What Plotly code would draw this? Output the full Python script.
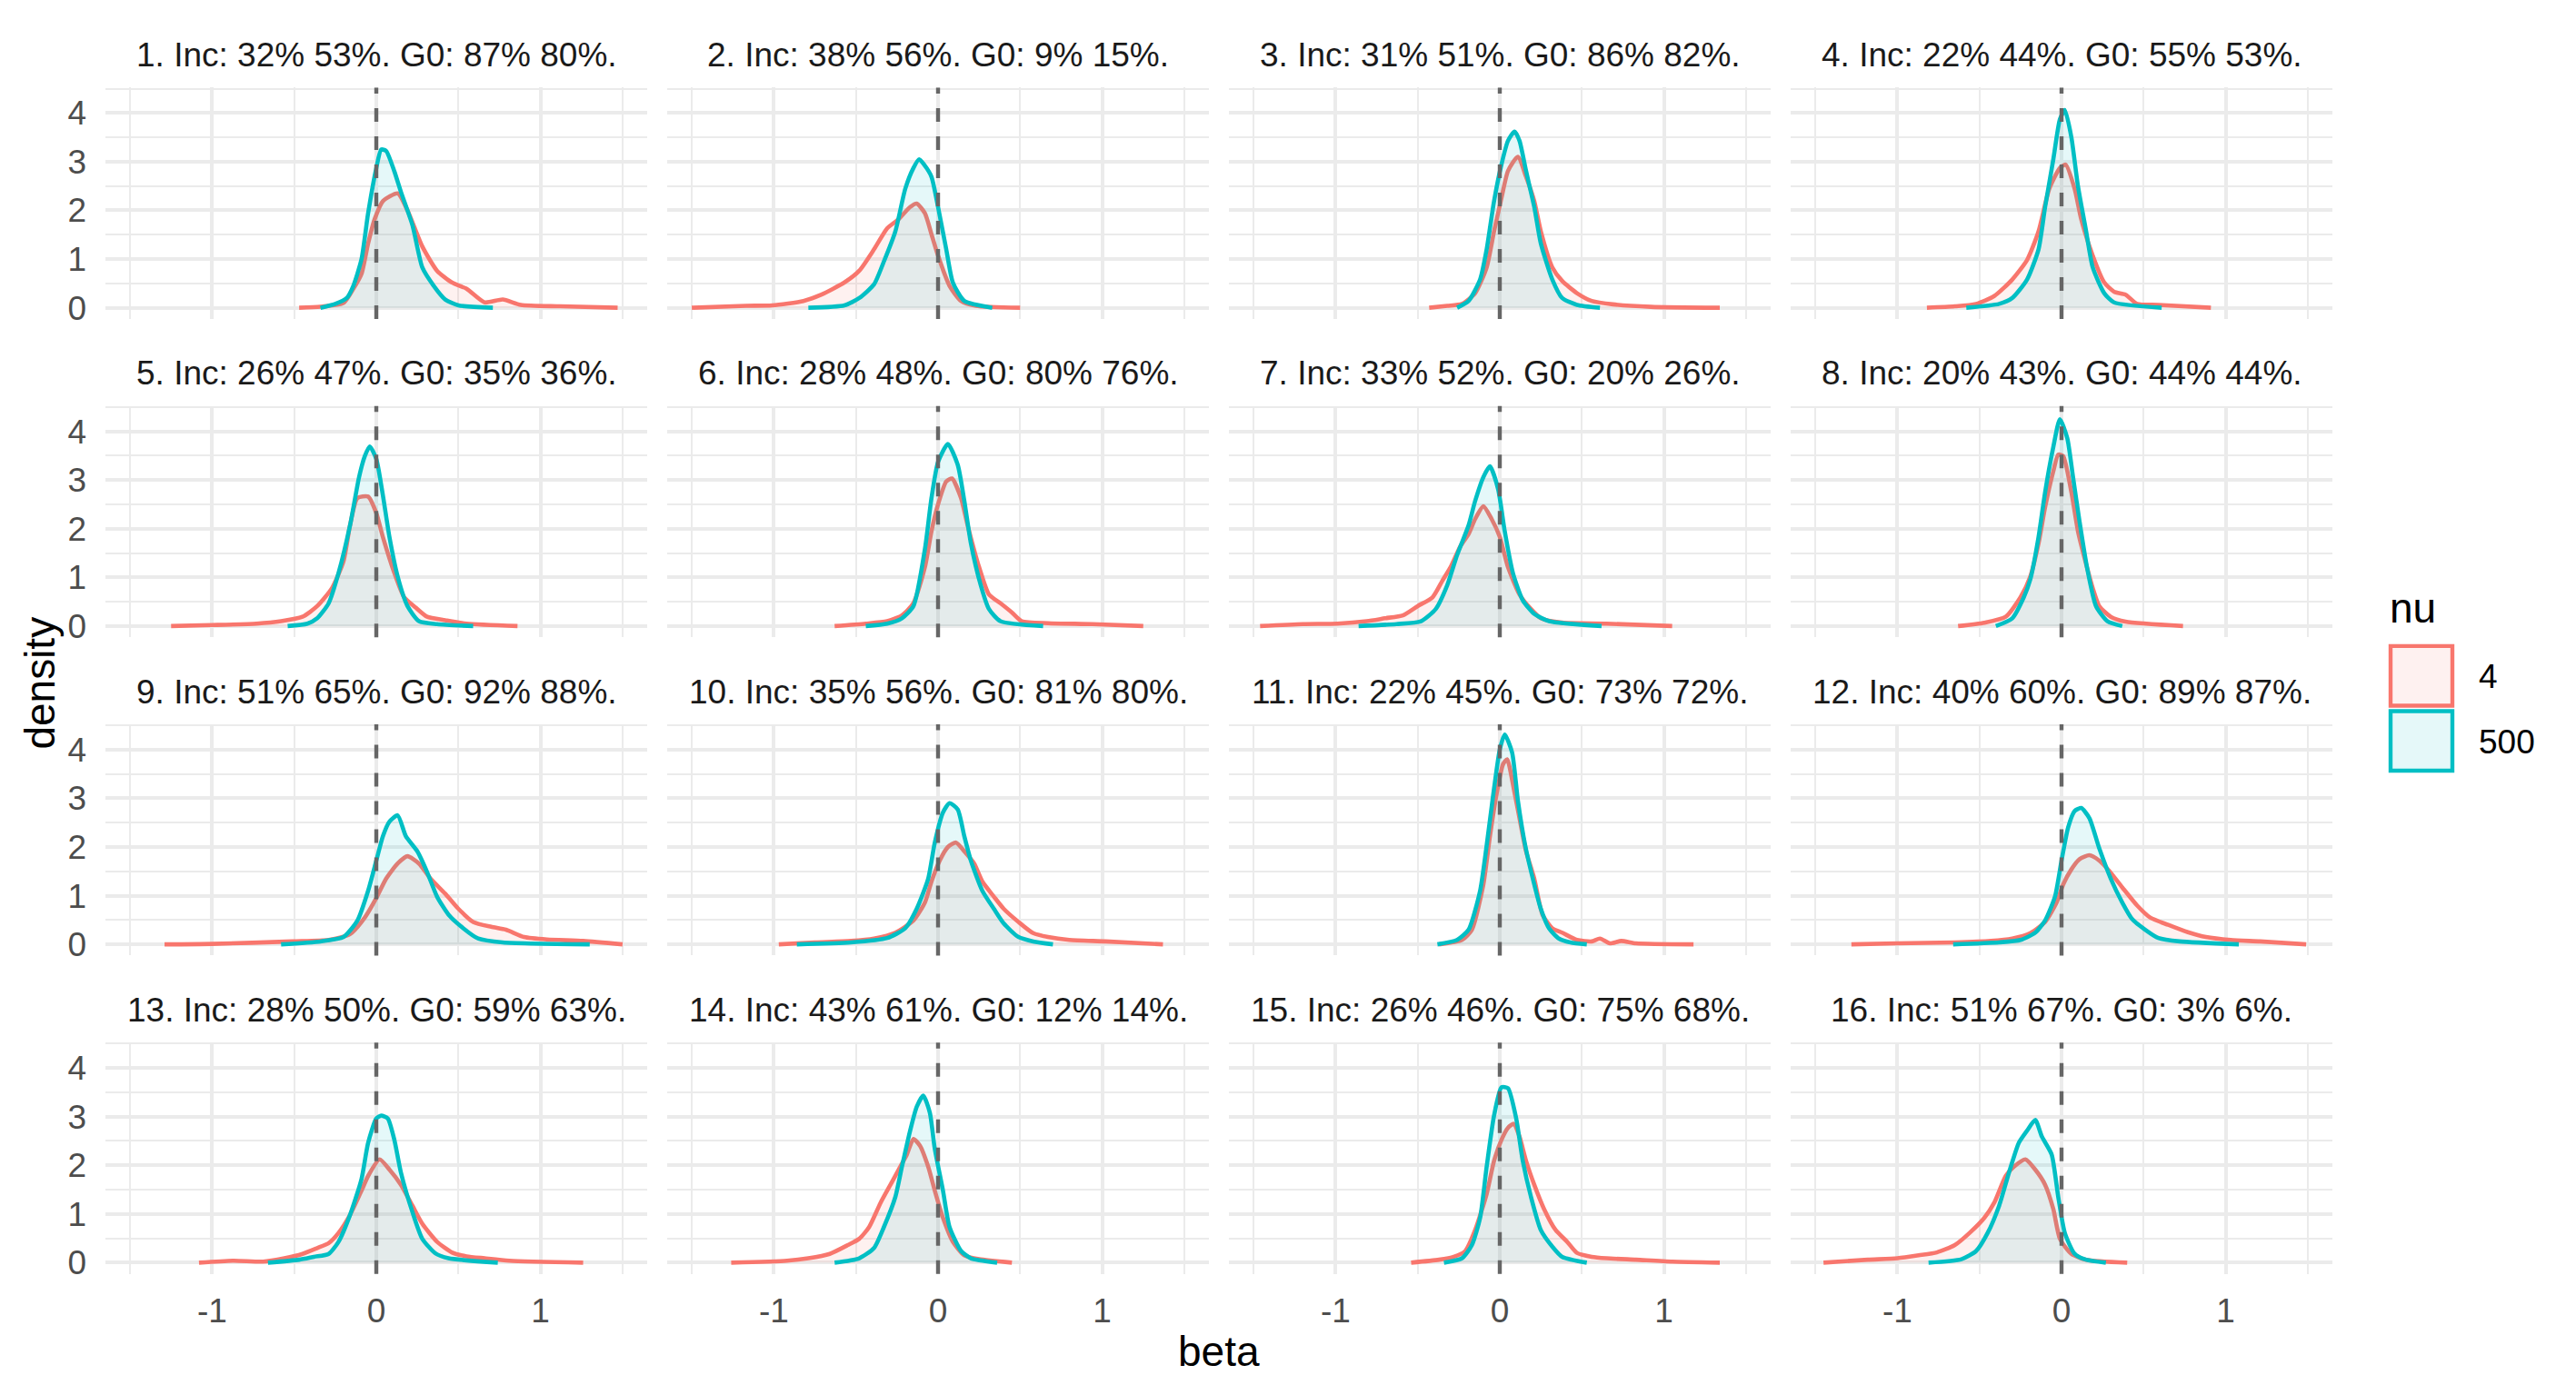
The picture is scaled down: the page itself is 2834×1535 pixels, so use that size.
import plotly.graph_objects as go

# --- panel labels: % inclusion and % G0, for nu = 4 and nu = 500 ---
inc_nu4 = [32, 38, 31, 22, 26, 28, 33, 20, 51, 35, 22, 40, 28, 43, 26, 51]
inc_nu500 = [53, 56, 51, 44, 47, 48, 52, 43, 65, 56, 45, 60, 50, 61, 46, 67]
g0_nu4 = [87, 9, 86, 55, 35, 80, 20, 44, 92, 81, 73, 89, 59, 12, 75, 3]
g0_nu500 = [80, 15, 82, 53, 36, 76, 26, 44, 88, 80, 72, 87, 63, 14, 68, 6]

nu_levels = ["4", "500"]
x_tickvals = [-1, 0, 1]
x_ticktext = ["-1", "0", "1"]
y_tickvals = [0, 1, 2, 3, 4]
x_minor = [-1.5, -0.5, 0.5, 1.5]
y_minor = [0.5, 1.5, 2.5, 3.5, 4.5]

# --- density curves (beta, density) ---
beta_01_nu4 = [-0.47, -0.34, -0.2, -0.14, -0.09, -0.05, -0.01, 0.04, 0.13, 0.19, 0.28, 0.37, 0.46, 0.55, 0.66, 0.77, 0.88, 1.12, 1.47]
dens_01_nu4 = [0, 0.02, 0.1, 0.39, 0.7, 1.32, 1.82, 2.19, 2.35, 2.0, 1.26, 0.76, 0.52, 0.39, 0.11, 0.17, 0.06, 0.03, 0]
beta_01_nu500 = [-0.34, -0.25, -0.18, -0.14, -0.09, -0.05, 0, 0.03, 0.06, 0.11, 0.15, 0.22, 0.28, 0.35, 0.42, 0.5, 0.71]
dens_01_nu500 = [0, 0.08, 0.2, 0.45, 1.0, 1.94, 2.87, 3.25, 3.22, 2.8, 2.38, 1.7, 0.83, 0.45, 0.17, 0.05, 0]

beta_02_nu4 = [-1.5, -1.17, -1.01, -0.82, -0.71, -0.57, -0.48, -0.39, -0.31, -0.24, -0.17, -0.13, -0.08, -0.04, 0, 0.07, 0.14, 0.23, 0.5]
dens_02_nu4 = [0, 0.04, 0.05, 0.14, 0.27, 0.52, 0.76, 1.2, 1.63, 1.82, 2.07, 2.14, 1.94, 1.51, 1.07, 0.45, 0.14, 0.04, 0]
beta_02_nu500 = [-0.79, -0.57, -0.48, -0.39, -0.33, -0.26, -0.2, -0.15, -0.115, -0.085, -0.04, 0, 0.05, 0.09, 0.16, 0.33]
dens_02_nu500 = [0, 0.05, 0.2, 0.48, 0.95, 1.57, 2.44, 2.87, 3.05, 2.94, 2.69, 2.07, 1.2, 0.52, 0.14, 0]

beta_03_nu4 = [-0.43, -0.32, -0.23, -0.15, -0.08, -0.035, 0.01, 0.05, 0.11, 0.16, 0.21, 0.25, 0.32, 0.38, 0.47, 0.56, 0.69, 0.92, 1.34]
dens_03_nu4 = [0, 0.04, 0.08, 0.3, 0.83, 1.57, 2.25, 2.81, 3.1, 2.69, 2.19, 1.57, 0.83, 0.55, 0.3, 0.14, 0.07, 0.02, 0]
beta_03_nu500 = [-0.26, -0.19, -0.12, -0.08, -0.035, 0.01, 0.05, 0.09, 0.12, 0.16, 0.21, 0.25, 0.32, 0.38, 0.47, 0.61]
dens_03_nu500 = [0, 0.14, 0.58, 1.2, 2.19, 2.94, 3.43, 3.62, 3.43, 2.81, 2.07, 1.32, 0.58, 0.2, 0.06, 0]

beta_04_nu4 = [-0.82, -0.65, -0.52, -0.41, -0.3, -0.21, -0.14, -0.075, -0.01, 0.025, 0.08, 0.12, 0.19, 0.26, 0.32, 0.39, 0.46, 0.59, 0.91]
dens_04_nu4 = [0, 0.03, 0.08, 0.24, 0.58, 0.98, 1.57, 2.44, 2.87, 2.94, 2.44, 1.82, 1.07, 0.52, 0.33, 0.27, 0.08, 0.06, 0]
beta_04_nu500 = [-0.58, -0.38, -0.3, -0.21, -0.14, -0.1, -0.05, -0.01, 0.02, 0.06, 0.1, 0.15, 0.19, 0.26, 0.32, 0.61]
dens_04_nu500 = [0, 0.08, 0.2, 0.58, 1.2, 2.07, 3.05, 3.87, 4.06, 3.5, 2.5, 1.57, 0.83, 0.3, 0.11, 0]

beta_05_nu4 = [-1.25, -1.0, -0.73, -0.58, -0.45, -0.36, -0.27, -0.2, -0.16, -0.115, -0.05, 0, 0.04, 0.11, 0.17, 0.24, 0.31, 0.42, 0.55, 0.86]
dens_05_nu4 = [0, 0.02, 0.05, 0.1, 0.19, 0.41, 0.78, 1.33, 2.07, 2.63, 2.66, 2.32, 1.83, 1.09, 0.59, 0.38, 0.19, 0.12, 0.05, 0]
beta_05_nu500 = [-0.54, -0.42, -0.36, -0.29, -0.23, -0.16, -0.105, -0.07, -0.04, 0, 0.04, 0.08, 0.13, 0.19, 0.26, 0.37, 0.59]
dens_05_nu500 = [0, 0.05, 0.16, 0.47, 1.09, 2.07, 3.06, 3.49, 3.69, 3.43, 2.69, 1.83, 1.02, 0.41, 0.1, 0.04, 0]

beta_06_nu4 = [-0.63, -0.44, -0.31, -0.22, -0.15, -0.08, -0.04, 0, 0.05, 0.085, 0.14, 0.18, 0.25, 0.31, 0.38, 0.45, 0.51, 0.67, 0.94, 1.25]
dens_06_nu4 = [0, 0.05, 0.1, 0.22, 0.47, 1.21, 1.95, 2.5, 2.97, 3.03, 2.63, 2.07, 1.21, 0.65, 0.47, 0.28, 0.1, 0.06, 0.04, 0]
beta_06_nu500 = [-0.44, -0.31, -0.22, -0.15, -0.08, -0.04, 0, 0.06, 0.12, 0.16, 0.2, 0.26, 0.31, 0.38, 0.64]
dens_06_nu500 = [0, 0.05, 0.16, 0.41, 1.58, 2.63, 3.37, 3.74, 3.31, 2.57, 1.7, 0.84, 0.35, 0.1, 0]

beta_07_nu4 = [-1.46, -1.2, -0.99, -0.81, -0.7, -0.59, -0.5, -0.41, -0.35, -0.3, -0.24, -0.19, -0.15, -0.1, -0.05, 0, 0.05, 0.12, 0.19, 0.25, 0.38, 0.65, 1.05]
dens_07_nu4 = [0, 0.04, 0.05, 0.1, 0.16, 0.22, 0.41, 0.59, 0.93, 1.21, 1.64, 1.89, 2.2, 2.46, 2.2, 1.83, 1.21, 0.65, 0.35, 0.16, 0.07, 0.05, 0]
beta_07_nu500 = [-0.86, -0.63, -0.48, -0.39, -0.32, -0.26, -0.19, -0.15, -0.1, -0.06, -0.01, 0.03, 0.08, 0.14, 0.21, 0.3, 0.62]
dens_07_nu500 = [0, 0.04, 0.1, 0.35, 0.84, 1.46, 2.07, 2.57, 3.06, 3.28, 2.81, 1.95, 1.09, 0.53, 0.25, 0.1, 0]

beta_08_nu4 = [-0.63, -0.47, -0.34, -0.25, -0.19, -0.14, -0.1, -0.05, -0.02, 0.01, 0.06, 0.1, 0.15, 0.19, 0.23, 0.3, 0.39, 0.74]
dens_08_nu4 = [0, 0.07, 0.19, 0.59, 1.02, 1.7, 2.44, 3.18, 3.52, 3.49, 2.75, 1.95, 1.27, 0.78, 0.41, 0.19, 0.09, 0]
beta_08_nu500 = [-0.4, -0.3, -0.23, -0.19, -0.14, -0.1, -0.05, -0.01, 0.035, 0.07, 0.11, 0.155, 0.21, 0.28, 0.37]
dens_08_nu500 = [0, 0.16, 0.59, 0.96, 1.83, 2.75, 3.68, 4.25, 3.86, 3.06, 2.14, 1.21, 0.41, 0.1, 0]

beta_09_nu4 = [-1.29, -1.0, -0.51, -0.29, -0.16, -0.07, 0, 0.06, 0.13, 0.19, 0.26, 0.33, 0.42, 0.5, 0.59, 0.7, 0.79, 0.9, 1.04, 1.26, 1.5]
dens_09_nu4 = [0, 0.01, 0.06, 0.09, 0.21, 0.55, 0.95, 1.35, 1.66, 1.81, 1.66, 1.35, 1.04, 0.73, 0.46, 0.36, 0.3, 0.15, 0.1, 0.07, 0]
beta_09_nu500 = [-0.58, -0.34, -0.2, -0.115, -0.05, 0, 0.04, 0.08, 0.13, 0.18, 0.25, 0.31, 0.37, 0.44, 0.53, 0.62, 0.77, 1.3]
dens_09_nu500 = [0, 0.06, 0.15, 0.49, 1.1, 1.72, 2.22, 2.52, 2.65, 2.22, 1.91, 1.48, 0.98, 0.61, 0.33, 0.12, 0.04, 0]

beta_10_nu4 = [-0.97, -0.75, -0.53, -0.39, -0.26, -0.15, -0.08, -0.04, 0.01, 0.06, 0.11, 0.16, 0.22, 0.27, 0.34, 0.4, 0.49, 0.58, 0.67, 0.8, 1.02, 1.37]
dens_10_nu4 = [0, 0.04, 0.07, 0.12, 0.24, 0.49, 0.86, 1.29, 1.72, 2.0, 2.09, 1.91, 1.66, 1.29, 0.98, 0.73, 0.46, 0.23, 0.15, 0.09, 0.06, 0]
beta_10_nu500 = [-0.86, -0.53, -0.31, -0.2, -0.13, -0.06, -0.02, 0.03, 0.07, 0.12, 0.16, 0.2, 0.27, 0.34, 0.4, 0.49, 0.58, 0.7]
dens_10_nu500 = [0, 0.04, 0.13, 0.33, 0.73, 1.35, 2.09, 2.71, 2.9, 2.77, 2.22, 1.72, 1.1, 0.73, 0.43, 0.15, 0.06, 0]

beta_11_nu4 = [-0.37, -0.23, -0.17, -0.1, -0.06, -0.02, 0.02, 0.045, 0.085, 0.12, 0.16, 0.21, 0.26, 0.32, 0.38, 0.47, 0.56, 0.61, 0.67, 0.74, 0.83, 1.18]
dens_11_nu4 = [0, 0.09, 0.3, 1.23, 2.22, 3.08, 3.7, 3.8, 3.2, 2.59, 1.91, 1.35, 0.61, 0.33, 0.24, 0.09, 0.06, 0.12, 0.02, 0.07, 0.02, 0]
beta_11_nu500 = [-0.38, -0.26, -0.19, -0.12, -0.08, -0.035, 0, 0.03, 0.075, 0.11, 0.155, 0.21, 0.25, 0.3, 0.36, 0.43, 0.53]
dens_11_nu500 = [0, 0.09, 0.3, 1.1, 2.03, 3.2, 4.0, 4.31, 3.94, 2.96, 2.03, 1.23, 0.73, 0.33, 0.12, 0.04, 0]

beta_12_nu4 = [-1.28, -1.0, -0.65, -0.43, -0.3, -0.19, -0.1, -0.03, 0.01, 0.06, 0.11, 0.17, 0.23, 0.29, 0.37, 0.46, 0.54, 0.65, 0.77, 0.88, 1.03, 1.21, 1.49]
dens_12_nu4 = [0, 0.02, 0.04, 0.07, 0.12, 0.23, 0.46, 0.86, 1.23, 1.54, 1.75, 1.83, 1.72, 1.51, 1.17, 0.8, 0.55, 0.4, 0.25, 0.15, 0.09, 0.06, 0]
beta_12_nu500 = [-0.66, -0.38, -0.25, -0.16, -0.1, -0.04, 0, 0.04, 0.08, 0.12, 0.17, 0.23, 0.3, 0.37, 0.43, 0.51, 0.59, 0.72, 1.08]
dens_12_nu500 = [0, 0.04, 0.09, 0.24, 0.49, 0.98, 1.72, 2.4, 2.74, 2.8, 2.59, 1.97, 1.35, 0.86, 0.52, 0.3, 0.13, 0.06, 0]

beta_13_nu4 = [-1.08, -0.87, -0.69, -0.56, -0.45, -0.36, -0.29, -0.23, -0.16, -0.09, -0.05, 0.02, 0.08, 0.15, 0.22, 0.28, 0.37, 0.46, 0.55, 0.66, 0.81, 1.26]
dens_13_nu4 = [0, 0.04, 0.02, 0.09, 0.18, 0.3, 0.4, 0.61, 0.98, 1.48, 1.78, 2.12, 1.91, 1.6, 1.17, 0.8, 0.43, 0.21, 0.13, 0.09, 0.04, 0]
beta_13_nu500 = [-0.66, -0.47, -0.38, -0.29, -0.23, -0.16, -0.09, -0.05, 0, 0.03, 0.07, 0.11, 0.15, 0.22, 0.28, 0.36, 0.44, 0.74]
dens_13_nu500 = [0, 0.06, 0.12, 0.18, 0.43, 0.98, 1.72, 2.46, 2.96, 3.02, 2.96, 2.52, 1.85, 1.04, 0.49, 0.19, 0.09, 0]

beta_14_nu4 = [-1.26, -0.92, -0.79, -0.66, -0.55, -0.48, -0.42, -0.35, -0.28, -0.24, -0.19, -0.15, -0.11, -0.06, -0.02, 0.03, 0.09, 0.16, 0.25, 0.45]
dens_14_nu4 = [0, 0.04, 0.09, 0.18, 0.36, 0.49, 0.73, 1.23, 1.66, 1.91, 2.22, 2.54, 2.4, 1.97, 1.48, 0.92, 0.43, 0.15, 0.07, 0]
beta_14_nu500 = [-0.63, -0.48, -0.39, -0.33, -0.26, -0.22, -0.17, -0.13, -0.09, -0.05, -0.02, 0.03, 0.07, 0.14, 0.2, 0.36]
dens_14_nu500 = [0, 0.09, 0.3, 0.73, 1.35, 1.97, 2.71, 3.2, 3.43, 3.08, 2.34, 1.48, 0.73, 0.24, 0.09, 0]

beta_15_nu4 = [-0.54, -0.37, -0.28, -0.21, -0.15, -0.08, -0.035, 0.01, 0.05, 0.085, 0.12, 0.16, 0.21, 0.27, 0.34, 0.41, 0.47, 0.56, 0.65, 0.83, 1.05, 1.34]
dens_15_nu4 = [0, 0.06, 0.12, 0.24, 0.67, 1.41, 2.09, 2.52, 2.77, 2.85, 2.59, 2.09, 1.6, 1.1, 0.67, 0.43, 0.2, 0.12, 0.09, 0.06, 0.02, 0]
beta_15_nu500 = [-0.34, -0.23, -0.17, -0.12, -0.08, -0.035, 0.01, 0.05, 0.1, 0.14, 0.19, 0.25, 0.32, 0.38, 0.53]
dens_15_nu500 = [0, 0.09, 0.36, 0.92, 1.97, 3.02, 3.6, 3.58, 2.96, 2.09, 1.35, 0.67, 0.33, 0.12, 0]

beta_16_nu4 = [-1.45, -1.18, -1.0, -0.87, -0.76, -0.65, -0.56, -0.47, -0.41, -0.34, -0.29, -0.22, -0.16, -0.1, -0.05, -0.01, 0.06, 0.15, 0.4]
dens_16_nu4 = [0, 0.06, 0.09, 0.15, 0.21, 0.36, 0.61, 0.92, 1.23, 1.78, 1.97, 2.12, 1.91, 1.6, 1.1, 0.49, 0.18, 0.06, 0]
beta_16_nu500 = [-0.81, -0.61, -0.52, -0.45, -0.38, -0.32, -0.26, -0.21, -0.16, -0.12, -0.06, -0.02, 0.02, 0.08, 0.15, 0.27]
dens_16_nu500 = [0, 0.07, 0.24, 0.61, 1.17, 1.85, 2.46, 2.71, 2.93, 2.59, 2.22, 1.35, 0.61, 0.18, 0.06, 0]

curves = [
    [(beta_01_nu4, dens_01_nu4), (beta_01_nu500, dens_01_nu500)],
    [(beta_02_nu4, dens_02_nu4), (beta_02_nu500, dens_02_nu500)],
    [(beta_03_nu4, dens_03_nu4), (beta_03_nu500, dens_03_nu500)],
    [(beta_04_nu4, dens_04_nu4), (beta_04_nu500, dens_04_nu500)],
    [(beta_05_nu4, dens_05_nu4), (beta_05_nu500, dens_05_nu500)],
    [(beta_06_nu4, dens_06_nu4), (beta_06_nu500, dens_06_nu500)],
    [(beta_07_nu4, dens_07_nu4), (beta_07_nu500, dens_07_nu500)],
    [(beta_08_nu4, dens_08_nu4), (beta_08_nu500, dens_08_nu500)],
    [(beta_09_nu4, dens_09_nu4), (beta_09_nu500, dens_09_nu500)],
    [(beta_10_nu4, dens_10_nu4), (beta_10_nu500, dens_10_nu500)],
    [(beta_11_nu4, dens_11_nu4), (beta_11_nu500, dens_11_nu500)],
    [(beta_12_nu4, dens_12_nu4), (beta_12_nu500, dens_12_nu500)],
    [(beta_13_nu4, dens_13_nu4), (beta_13_nu500, dens_13_nu500)],
    [(beta_14_nu4, dens_14_nu4), (beta_14_nu500, dens_14_nu500)],
    [(beta_15_nu4, dens_15_nu4), (beta_15_nu500, dens_15_nu500)],
    [(beta_16_nu4, dens_16_nu4), (beta_16_nu500, dens_16_nu500)],
]

# --- styling ---
W, H = 2834, 1535
FONT = "Liberation Sans, Arial, sans-serif"
line_colors = ["#F8766D", "#00BFC4"]
fill_colors = ["rgba(248,118,109,0.1)", "rgba(0,191,196,0.1)"]
GRID = "#EBEBEB"

# panel geometry in pixels
left0, pw, pgap = 108, 596, 22
top0, ph, prow = 89, 256, 352.3


def px_x(p):
    return p / W


def px_y(p):
    return 1 - p / H


fig = go.Figure()
annotations = []
shapes = []

for i in range(16):
    r, c = divmod(i, 4)
    ax = "" if i == 0 else str(i + 1)
    x0 = left0 + c * (pw + pgap)
    y0 = top0 + r * prow

    for k in range(2):
        bx, dy = curves[i][k]
        fig.add_trace(go.Scatter(
            x=bx, y=dy, mode="lines",
            line=dict(color=line_colors[k], width=4.6, shape="spline", smoothing=0.6),
            fill="tozeroy", fillcolor=fill_colors[k],
            xaxis="x" + ax, yaxis="y" + ax,
            showlegend=False, hoverinfo="skip",
        ))

    fig.layout["xaxis" + ax] = dict(
        domain=[px_x(x0), px_x(x0 + pw)], anchor="y" + ax,
        range=[-1.65, 1.65], tickmode="array",
        tickvals=x_tickvals, ticktext=x_ticktext,
        showticklabels=(r == 3), ticklabelstandoff=15,
        tickfont=dict(family=FONT, size=37, color="#4D4D4D"),
        showgrid=True, gridcolor=GRID, gridwidth=4.4,
        minor=dict(tickmode="array", tickvals=x_minor, showgrid=True,
                   gridcolor=GRID, gridwidth=2.2),
        zeroline=False, showline=False, ticks="",
    )
    fig.layout["yaxis" + ax] = dict(
        domain=[px_y(y0 + ph), px_y(y0)], anchor="x" + ax,
        range=[-0.23, 4.52], tickmode="array", tickvals=y_tickvals,
        showticklabels=(c == 0), ticklabelstandoff=20,
        tickfont=dict(family=FONT, size=37, color="#4D4D4D"),
        showgrid=True, gridcolor=GRID, gridwidth=4.4,
        minor=dict(tickmode="array", tickvals=y_minor, showgrid=True,
                   gridcolor=GRID, gridwidth=2.2),
        zeroline=False, showline=False, ticks="",
    )

    # dashed reference line at beta = 0
    shapes.append(dict(
        type="line", xref="x" + ax, yref="y" + ax + " domain",
        x0=0, x1=0, y0=0, y1=1, layer="above",
        line=dict(color="#666666", width=4.4, dash="15px,16px"),
    ))

    # strip title
    title = f"{i + 1}. Inc: {inc_nu4[i]}% {inc_nu500[i]}%. G0: {g0_nu4[i]}% {g0_nu500[i]}%."
    annotations.append(dict(
        text=title, xref="paper", yref="paper",
        x=px_x(x0 + pw / 2), y=px_y(y0 - 36),
        xanchor="center", yanchor="middle", showarrow=False,
        font=dict(family=FONT, size=37, color="#1A1A1A"),
    ))

# axis titles
annotations.append(dict(
    text="beta", xref="paper", yref="paper", x=px_x(1333), y=px_y(1488),
    xanchor="center", yanchor="middle", showarrow=False,
    font=dict(family=FONT, size=46, color="#000000"),
))
annotations.append(dict(
    text="density", xref="paper", yref="paper", x=px_x(36), y=px_y(748),
    xanchor="center", yanchor="middle", showarrow=False, textangle=-90,
    font=dict(family=FONT, size=46, color="#000000"),
))

# legend (built by hand to mimic ggplot key boxes)
annotations.append(dict(
    text="nu", xref="paper", yref="paper", x=px_x(2619), y=px_y(665),
    xanchor="left", yanchor="middle", showarrow=False,
    font=dict(family=FONT, size=46, color="#000000"),
))
key_tops = [707, 779]
for k in range(2):
    shapes.append(dict(
        type="rect", xref="paper", yref="paper",
        x0=px_x(2622), x1=px_x(2690),
        y0=px_y(key_tops[k] + 66), y1=px_y(key_tops[k]),
        line=dict(color=line_colors[k], width=4.4),
        fillcolor=fill_colors[k],
    ))
    annotations.append(dict(
        text=nu_levels[k], xref="paper", yref="paper",
        x=px_x(2717), y=px_y(key_tops[k] + 34),
        xanchor="left", yanchor="middle", showarrow=False,
        font=dict(family=FONT, size=37, color="#000000"),
    ))

fig.update_layout(
    width=W, height=H,
    margin=dict(l=0, r=0, t=0, b=0),
    paper_bgcolor="white", plot_bgcolor="white",
    showlegend=False,
    annotations=annotations, shapes=shapes,
)

fig.write_html("out.html")
